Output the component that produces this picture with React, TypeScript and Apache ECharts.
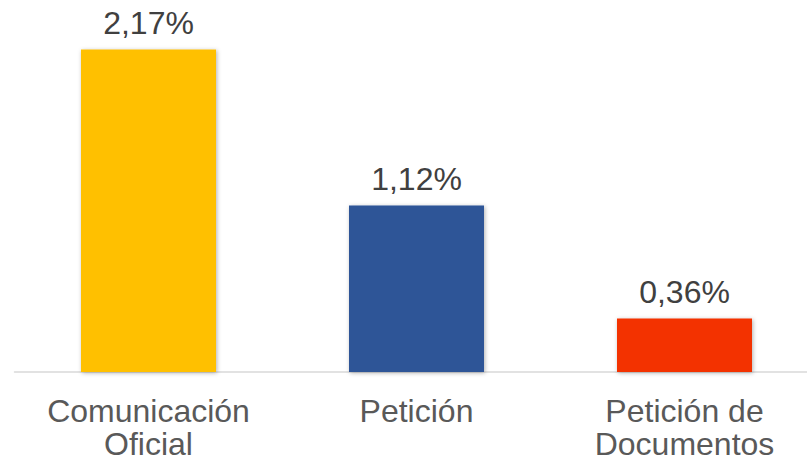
import React, { useEffect, useRef } from "react";
import * as echarts from "echarts";

const categories = ["Comunicación\nOficial", "Petición", "Petición de\nDocumentos"];
const values = [2.17, 1.12, 0.36];
const colors = ["#FFC000", "#2F5597", "#F33000"];

export default function App() {
  const ref = useRef<HTMLDivElement>(null);
  useEffect(() => {
    if (!ref.current) return;
    const chart = echarts.init(ref.current, undefined, { renderer: "svg" });
    chart.setOption({
      animation: false,
      backgroundColor: "#ffffff",
      grid: { left: 14.5, top: 0.5, width: 804, bottom: 90, containLabel: false },
      xAxis: {
        type: "category",
        data: categories,
        axisLine: { show: true, lineStyle: { color: "#D9D9D9", width: 1.5 } },
        axisTick: { show: false },
        axisLabel: {
          interval: 0,
          color: "#595959",
          fontSize: 32,
          lineHeight: 33,
          margin: 22,
          fontFamily: "Liberation Sans, Arial, sans-serif",
        },
      },
      yAxis: {
        type: "value",
        min: 0,
        max: 2.5,
        show: false,
        splitLine: { show: false },
      },
      series: [
        {
          type: "bar",
          barWidth: 135,
          data: values.map((v, i) => ({
            value: v,
            itemStyle: {
              color: colors[i],
              shadowBlur: 4,
              shadowColor: "rgba(0,0,0,0.3)",
              shadowOffsetX: 1,
              shadowOffsetY: 1,
            },
          })),
          label: {
            show: true,
            position: "top",
            distance: 11,
            color: "#404040",
            fontSize: 32,
            fontFamily: "Liberation Sans, Arial, sans-serif",
            formatter: (p: any) => p.value.toFixed(2).replace(".", ",") + "%",
          },
        },
      ],
    });
    return () => chart.dispose();
  }, []);
  return (
    <div
      style={{
        position: "fixed",
        left: 0,
        top: 0,
        width: 807,
        height: 462,
        overflow: "hidden",
        background: "#ffffff",
      }}
    >
      <div ref={ref} style={{ width: 830, height: 462 }} />
    </div>
  );
}
